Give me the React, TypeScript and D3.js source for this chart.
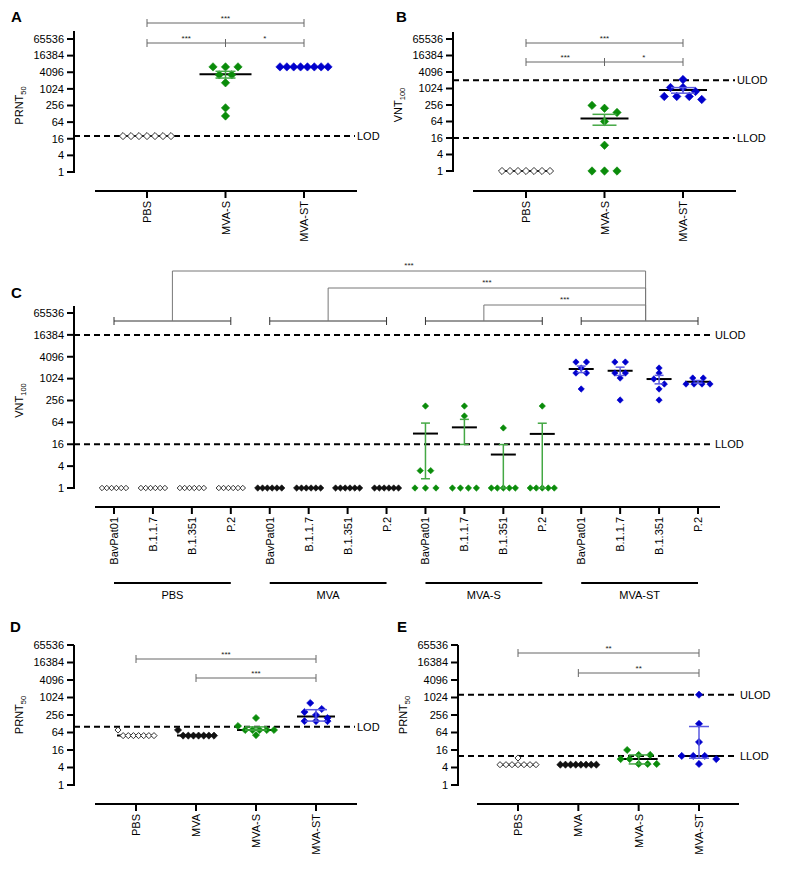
import React from "react";
import * as d3 from "d3";

const FONT = "'Liberation Sans', Arial, Helvetica, sans-serif";

const yTickValues = [1, 4, 16, 64, 256, 1024, 4096, 16384, 65536];

// panel A – PRNT50
const catsA = ["PBS", "MVA-S", "MVA-ST"];
const prntA_PBS = [20, 20, 20, 20, 20, 20, 20];
const prntA_MVAS = [6400, 6400, 6400, 3300, 3300, 1700, 210, 107];
const prntA_MVAST = [6400, 6400, 6400, 6400, 6400, 6400, 6400, 6400];
const lodA = 20;

// panel B – VNT100
const catsB = ["PBS", "MVA-S", "MVA-ST"];
const vntB_PBS = [1, 1, 1, 1, 1, 1, 1];
const vntB_MVAS = [248, 194, 137, 64, 8.7, 1, 1, 1];
const vntB_MVAST = [2170, 1113, 1113, 798, 526, 526, 526, 408];
const ulodB = 2048;
const llodB = 16;

// panel C – VNT100 per variant
const variantsC = ["BavPat01", "B.1.1.7", "B.1.351", "P.2"];
const groupsC = ["PBS", "MVA", "MVA-S", "MVA-ST"];
const vntC_PBS = [[1, 1, 1, 1, 1, 1], [1, 1, 1, 1, 1, 1], [1, 1, 1, 1, 1, 1], [1, 1, 1, 1, 1, 1]];
const vntC_MVA = [[1, 1, 1, 1, 1, 1], [1, 1, 1, 1, 1, 1], [1, 1, 1, 1, 1, 1], [1, 1, 1, 1, 1, 1]];
const vntC_MVAS = [[180, 3, 3, 1, 1, 1], [180, 96, 1, 1, 1, 1], [45, 1, 1, 1, 1, 1], [180, 1, 1, 1, 1, 1]];
const vntC_MVAST = [
  [2930, 2930, 2005, 1460, 1460, 530],
  [2930, 2930, 1460, 1460, 1063, 264],
  [2005, 1460, 996, 727, 530, 264],
  [1063, 1063, 727, 727, 727, 727],
];
const ulodC = 16384;
const llodC = 16;

// panels D and E – PRNT50
const catsDE = ["PBS", "MVA", "MVA-S", "MVA-ST"];
const prntD_PBS = [78, 50, 50, 50, 50, 50, 50, 50];
const prntD_MVA = [78, 50, 50, 50, 50, 50, 50, 50];
const prntD_MVAS = [202, 107, 78, 78, 78, 78, 78, 52];
const prntD_MVAST = [662, 412, 324, 256, 202, 158, 158, 158];
const lodD = 100;

const prntE_PBS = [8.5, 5, 5, 5, 5, 5, 5, 5];
const prntE_MVA = [5, 5, 5, 5, 5, 5, 5, 5];
const prntE_MVAS = [16, 10.8, 10.8, 7.8, 7.8, 5.3, 5.3, 5.3];
const prntE_MVAST = [1280, 127, 30, 10, 10, 10, 7.8, 5.3];
const ulodE = 1280;
const llodE = 10;

const KIND: any = {
  open: { fill: "#fff", stroke: "#333", err: "#222", shrink: 0.85 },
  black: { fill: "#111", stroke: "#111", err: "#111", shrink: 1 },
  green: { fill: "#0a8c0a", stroke: "#0a8c0a", err: "#44a844", shrink: 1 },
  blue: { fill: "#0000cc", stroke: "#0000cc", err: "#5a5ae0", shrink: 1 },
};
const kindOf = (g: string) => (g === "PBS" ? "open" : g === "MVA" ? "black" : g === "MVA-S" ? "green" : "blue");

function prismQuantile(s: number[], p: number) {
  const n = s.length;
  const pos = (n + 1) * p;
  if (pos <= 1) return s[0];
  if (pos >= n) return s[n - 1];
  const lo = Math.floor(pos);
  return s[lo - 1] + (pos - lo) * (s[lo] - s[lo - 1]);
}

function summary(values: number[], stat: string) {
  if (stat === "mean") {
    const m = d3.mean(values) as number;
    const sd = (d3.deviation(values) as number) || 0;
    const sem = sd / Math.sqrt(values.length);
    return { center: m, lo: Math.max(1, m - sem), hi: m + sem };
  }
  const s = [...values].sort(d3.ascending);
  return { center: d3.median(s) as number, lo: prismQuantile(s, 0.25), hi: prismQuantile(s, 0.75) };
}

function layoutPoints(values: number[], y: any, cx: number, spacing: number, maxHalf: number, rowTol: number) {
  const pts = values.map((v) => ({ v, py: y(v) })).sort((a, b) => a.py - b.py);
  const rows: any[] = [];
  pts.forEach((p) => {
    const row = rows[rows.length - 1];
    if (row && p.py - row[0].py <= rowTol) row.push(p);
    else rows.push([p]);
  });
  const out: { x: number; y: number }[] = [];
  rows.forEach((row) => {
    const half = ((row.length - 1) / 2) * spacing;
    const k = half > maxHalf ? maxHalf / half : 1;
    row.forEach((p: any, i: number) => out.push({ x: cx + (i - (row.length - 1) / 2) * spacing * k, y: p.py }));
  });
  return out;
}

const diamond = (x: number, y: number, r: number) => `M${x},${y - r}L${x + r},${y}L${x},${y + r}L${x - r},${y}Z`;

const Panel = ({ cfg, extra }: any) => {
  const y = d3.scaleLog().base(2).domain([1, 65536]).range([cfg.yBottom, cfg.yTop]);
  const x = d3.scalePoint<string>().domain(cfg.series.map((s: any) => s.key)).range([cfg.catFirst, cfg.catLast]);
  const midY = (cfg.yBottom + cfg.yTop) / 2;
  return (
    <g fontFamily={FONT}>
      <text x={cfg.letterX} y={cfg.letterY} fontSize={15} fontWeight="bold">{cfg.letter}</text>

      {/* reference lines */}
      {cfg.refs.map((r: any) => (
        <g key={r.label}>
          <line x1={cfg.axisX} x2={cfg.refEnd} y1={y(r.value)} y2={y(r.value)} stroke="#000" strokeWidth={2} strokeDasharray="6,4" />
          <text x={cfg.refEnd + 2} y={y(r.value)} dy="0.35em" fontSize={11}>{r.label}</text>
        </g>
      ))}

      {/* y axis */}
      <line x1={cfg.axisX} x2={cfg.axisX} y1={cfg.axisTop} y2={cfg.yBottom + 1} stroke="#000" strokeWidth={2} />
      {yTickValues.map((t) => (
        <g key={t}>
          <line x1={cfg.axisX - 7} x2={cfg.axisX} y1={y(t)} y2={y(t)} stroke="#000" strokeWidth={2} />
          <text x={cfg.axisX - 10} y={y(t)} dy="0.35em" textAnchor="end" fontSize={11}>{t}</text>
        </g>
      ))}
      <text transform={`translate(${cfg.axisX - 51},${midY}) rotate(-90)`} textAnchor="middle" fontSize={11}>
        {cfg.title}
        <tspan fontSize={7.5} dy={3}>{cfg.sub}</tspan>
      </text>

      {/* x axis */}
      <line x1={cfg.xStart} x2={cfg.xEnd} y1={cfg.xAxisY} y2={cfg.xAxisY} stroke="#000" strokeWidth={2} />
      {cfg.series.map((s: any) => (
        <g key={s.key}>
          <line x1={x(s.key)} x2={x(s.key)} y1={cfg.xAxisY} y2={cfg.xAxisY + 7} stroke="#000" strokeWidth={2} />
          <text transform={`translate(${(x(s.key) as number) + 4},${cfg.xAxisY + 10}) rotate(-90)`} textAnchor="end" fontSize={11}>
            {s.label}
          </text>
        </g>
      ))}

      {/* significance brackets */}
      {(cfg.brackets || []).map((b: any, i: number) => {
        const xa = x(cfg.series[b.a].key) as number;
        const xb = x(cfg.series[b.b].key) as number;
        return (
          <g key={i} stroke="#666" strokeWidth={1}>
            <line x1={xa} x2={xb} y1={b.y} y2={b.y} />
            <line x1={xa} x2={xa} y1={b.y - 4} y2={b.y + 4} />
            <line x1={xb} x2={xb} y1={b.y - 4} y2={b.y + 4} />
            <text x={(xa + xb) / 2} y={b.y - 2} textAnchor="middle" fontSize={8} fill="#222" stroke="none">{b.label}</text>
          </g>
        );
      })}

      {/* data */}
      {cfg.series.map((s: any) => {
        const cx = x(s.key) as number;
        const st = KIND[s.kind];
        const sm = summary(s.values, cfg.stat);
        const pts = layoutPoints(s.values, y, cx, cfg.spacing, cfg.maxHalf, cfg.rowTol);
        const showErr = y(sm.lo) - y(sm.hi) > 0.5;
        return (
          <g key={s.key}>
            <line x1={cx - cfg.meanHalf} x2={cx + cfg.meanHalf} y1={y(sm.center)} y2={y(sm.center)} stroke="#000" strokeWidth={2} />
            {pts.map((p, i) => (
              <path key={i} d={diamond(p.x, p.y, cfg.r * st.shrink)} fill={st.fill} stroke={st.stroke} strokeWidth={s.kind === "open" ? 1 : 0.6} />
            ))}
            {showErr && (
              <g stroke={st.err} strokeWidth={1.5}>
                <line x1={cx} x2={cx} y1={y(sm.lo)} y2={y(sm.hi)} />
                <line x1={cx - cfg.capHalf} x2={cx + cfg.capHalf} y1={y(sm.hi)} y2={y(sm.hi)} />
                <line x1={cx - cfg.capHalf} x2={cx + cfg.capHalf} y1={y(sm.lo)} y2={y(sm.lo)} />
              </g>
            )}
          </g>
        );
      })}
      {extra ? extra(x, y) : null}
    </g>
  );
};

const mk = (cats: string[], arrs: number[][]) =>
  cats.map((c, i) => ({ key: c, label: c, kind: kindOf(c), values: arrs[i] }));

const cfgA = {
  letter: "A", letterX: 11, letterY: 22,
  axisX: 74, yBottom: 172, yTop: 39, axisTop: 31,
  xAxisY: 191, xStart: 95, xEnd: 357, catFirst: 147, catLast: 304,
  title: "PRNT", sub: "50", stat: "mean",
  r: 4.2, spacing: 12.5, maxHalf: 24, rowTol: 7.5, meanHalf: 26, capHalf: 10,
  refs: [{ value: lodA, label: "LOD" }], refEnd: 355,
  brackets: [{ a: 0, b: 2, y: 23, label: "***" }, { a: 0, b: 1, y: 43, label: "***" }, { a: 1, b: 2, y: 43, label: "*" }],
  series: mk(catsA, [prntA_PBS, prntA_MVAS, prntA_MVAST]),
};

const cfgB = {
  letter: "B", letterX: 396, letterY: 22,
  axisX: 453, yBottom: 171, yTop: 39, axisTop: 32,
  xAxisY: 191, xStart: 473, xEnd: 736, catFirst: 526, catLast: 683,
  title: "VNT", sub: "100", stat: "mean",
  r: 4.2, spacing: 12.5, maxHalf: 24, rowTol: 7.5, meanHalf: 24, capHalf: 12,
  refs: [{ value: ulodB, label: "ULOD" }, { value: llodB, label: "LLOD" }], refEnd: 735,
  brackets: [{ a: 0, b: 2, y: 43, label: "***" }, { a: 0, b: 1, y: 62, label: "***" }, { a: 1, b: 2, y: 62, label: "*" }],
  series: mk(catsB, [vntB_PBS, vntB_MVAS, vntB_MVAST]),
};

const cArrays = [vntC_PBS, vntC_MVA, vntC_MVAS, vntC_MVAST];
const cfgC = {
  letter: "C", letterX: 11, letterY: 298,
  axisX: 74, yBottom: 488, yTop: 313, axisTop: 306,
  xAxisY: 507, xStart: 95, xEnd: 720, catFirst: 114, catLast: 698,
  title: "VNT", sub: "100", stat: "mean",
  r: 3.2, spacing: 10.5, maxHalf: 12, rowTol: 5, meanHalf: 12.5, capHalf: 4.5,
  refs: [{ value: ulodC, label: "ULOD" }, { value: llodC, label: "LLOD" }], refEnd: 713,
  brackets: [],
  series: groupsC.flatMap((g, gi) =>
    variantsC.map((v, vi) => ({ key: g + "|" + v, label: v, kind: kindOf(g), values: cArrays[gi][vi] }))
  ),
};

const cfgD = {
  letter: "D", letterX: 10, letterY: 632,
  axisX: 74, yBottom: 785, yTop: 645, axisTop: 645,
  xAxisY: 804, xStart: 95, xEnd: 357, catFirst: 136, catLast: 316,
  title: "PRNT", sub: "50", stat: "median",
  r: 3.6, spacing: 11.5, maxHalf: 18, rowTol: 6, meanHalf: 19, capHalf: 11,
  refs: [{ value: lodD, label: "LOD" }], refEnd: 355,
  brackets: [{ a: 0, b: 3, y: 659, label: "***" }, { a: 1, b: 3, y: 678, label: "***" }],
  series: mk(catsDE, [prntD_PBS, prntD_MVA, prntD_MVAS, prntD_MVAST]),
};

const cfgE = {
  letter: "E", letterX: 397, letterY: 632,
  axisX: 458, yBottom: 785, yTop: 645, axisTop: 645,
  xAxisY: 804, xStart: 477, xEnd: 739, catFirst: 518, catLast: 699,
  title: "PRNT", sub: "50", stat: "median",
  r: 3.6, spacing: 11.5, maxHalf: 18, rowTol: 6, meanHalf: 19, capHalf: 10,
  refs: [{ value: ulodE, label: "ULOD" }, { value: llodE, label: "LLOD" }], refEnd: 738,
  brackets: [{ a: 0, b: 3, y: 653, label: "**" }, { a: 1, b: 3, y: 673, label: "**" }],
  series: mk(catsDE, [prntE_PBS, prntE_MVA, prntE_MVAS, prntE_MVAST]),
};

// group brackets, connectors and group labels for panel C
const extraC = (x: any) => {
  const bracketY = 321;
  const levels = [271, 288, 305];
  const groups = groupsC.map((g) => {
    const x0 = x(g + "|" + variantsC[0]);
    const x1 = x(g + "|" + variantsC[variantsC.length - 1]);
    return { g, x0, x1, mid: (x0 + x1) / 2 };
  });
  const target = groups[3].mid + 6;
  return (
    <g>
      {groups.map((gr) => (
        <g key={gr.g}>
          <g stroke="#333" strokeWidth={1}>
            <line x1={gr.x0} x2={gr.x1} y1={bracketY} y2={bracketY} />
            <line x1={gr.x0} x2={gr.x0} y1={bracketY - 4} y2={bracketY + 4} />
            <line x1={gr.x1} x2={gr.x1} y1={bracketY - 4} y2={bracketY + 4} />
          </g>
          <line x1={gr.x0} x2={gr.x1} y1={583} y2={583} stroke="#000" strokeWidth={2} />
          <text x={gr.mid} y={599} textAnchor="middle" fontSize={11}>{gr.g}</text>
        </g>
      ))}
      {levels.map((lv, i) => (
        <g key={i}>
          <path d={`M${groups[i].mid},${bracketY}V${lv}H${target}V${bracketY}`} fill="none" stroke="#777" strokeWidth={1} />
          <text x={(groups[i].mid + target) / 2} y={lv - 3} textAnchor="middle" fontSize={8} fill="#222">***</text>
        </g>
      ))}
    </g>
  );
};

export default function App() {
  return (
    <svg width={785} height={874} style={{ position: "absolute", left: 0, top: 0, background: "#fff" }}>
      <Panel cfg={cfgA} />
      <Panel cfg={cfgB} />
      <Panel cfg={cfgC} extra={extraC} />
      <Panel cfg={cfgD} />
      <Panel cfg={cfgE} />
    </svg>
  );
}
